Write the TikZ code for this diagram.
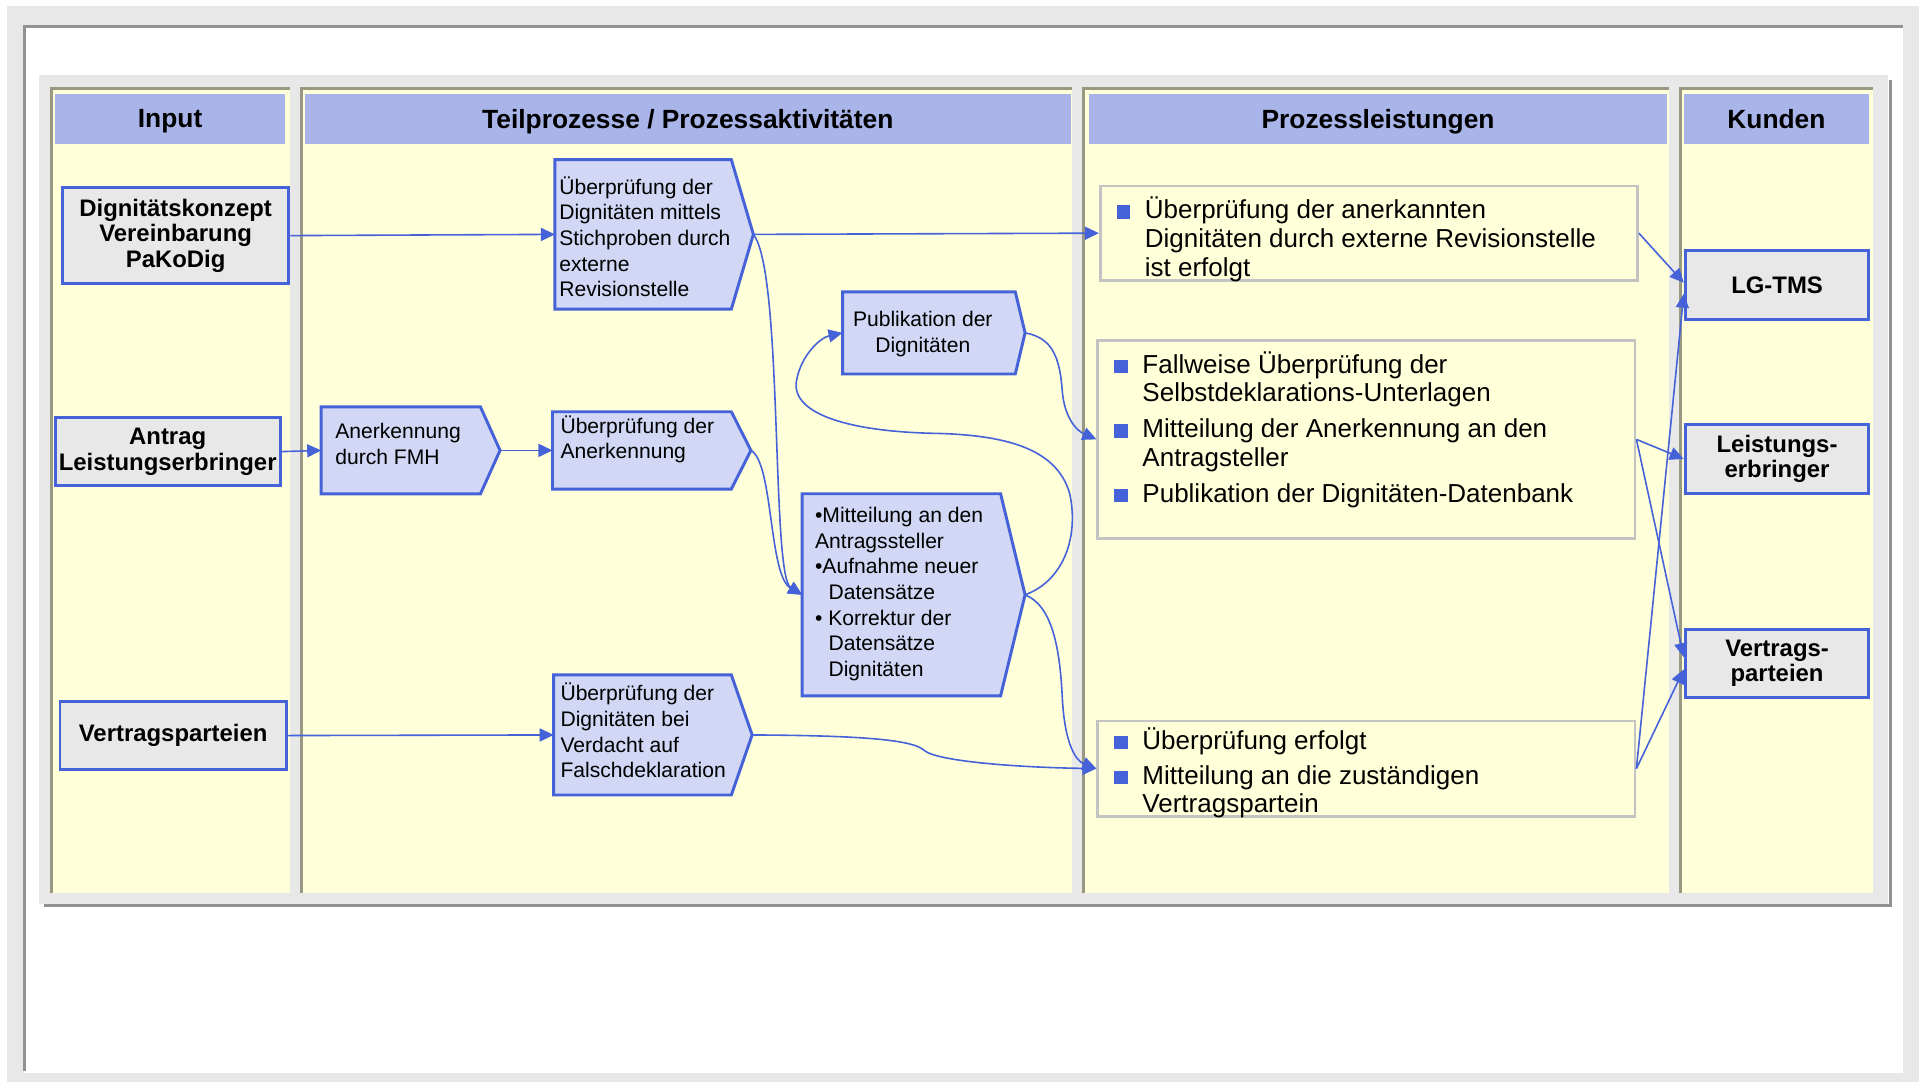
\documentclass[tikz,border=0pt]{standalone}
\usepackage{fontspec}
\setmainfont{Liberation Sans}
\usetikzlibrary{positioning,arrows.meta}

\newlength\pu
\setlength\pu{0.12239mm}
\definecolor{lineblue}{HTML}{4562D9}
\definecolor{headblue}{HTML}{A9B5E9}
\definecolor{nodeblue}{HTML}{D1D7F4}
\definecolor{colyellow}{HTML}{FFFFD9}
\definecolor{panelgray}{HTML}{E8E8E8}
\definecolor{framegray}{HTML}{929292}
\definecolor{colline}{HTML}{999983}
\definecolor{boxgray}{HTML}{C3C3C3}
\newcommand\bulsq{\makebox[23\pu][l]{\textcolor{lineblue}{\rule{11\pu}{11\pu}}}}
\newcommand\bulind{\hspace*{23\pu}}

\tikzset{
  inbox/.style={draw=lineblue, line width=2.4\pu, fill=panelgray, minimum width=185\pu,
    minimum height=56\pu, align=center, inner sep=0pt,
    font=\fontsize{6.8}{7.3}\selectfont\bfseries},
  kbox/.style={inbox, minimum width=150\pu},
  head/.style={fill=headblue, inner sep=0pt, text depth=0pt, minimum height=41\pu,
    font=\fontsize{7.5}{9}\selectfont\bfseries},
  sig/.style={inner sep=0pt},
  sigline/.style={draw=lineblue, fill=nodeblue, line width=2.4\pu},
  sigtext/.style={font=\fontsize{6}{7.3}\selectfont, align=left, inner sep=0pt, anchor=west},
  outbox/.style={draw=boxgray, line width=2.2\pu, minimum width=439\pu, inner sep=0pt},
  outtext/.style={font=\fontsize{7.4}{8.15}\selectfont, align=left, inner sep=0pt, anchor=west},
  flow/.style={draw=lineblue, line width=1.3\pu, -{Triangle[length=1.4mm,width=1.3mm]}},
}

\begin{document}
\begin{tikzpicture}[x=0.12239mm, y=-0.12239mm]
\useasboundingbox (0,0) rectangle (1568,884.06);
% frame and panel
\fill[panelgray] (6,5) rectangle (1568,884.06);
\fill[white] (20,22) rectangle (1555,877);
\draw[framegray, line width=2.5\pu] (20,875) -- (20,22) -- (1555,22);
\fill[panelgray] (32,61) rectangle (1543,739);
\draw[framegray, line width=2.5\pu] (36,740) -- (1545,740) -- (1545,65);
\foreach \l/\r in {42/237, 246/876, 885/1364, 1373/1530}{% one column each
  \fill[colyellow] (\l,72) rectangle (\r,730);
  \draw[colline, line width=2.5\pu] (\l,730) -- (\l,72) -- (\r,72);
}
\node[head, minimum width=188\pu] (hinput) at (139,97) {Input};
\node[head, minimum width=626\pu] (hteil) at (562,97) {Teilprozesse / Prozessaktivitäten};
\node[head, minimum width=472\pu] (hleist) at (1126,97.5) {Prozessleistungen};
\node[head, minimum width=151\pu] (hkunden) at (1451.5,97.5) {Kunden};

% input
\node[inbox, minimum height=79\pu] (konzept) at (143.5,192.5) {Dignitätskonzept\\Vereinbarung\\PaKoDig};
\node[inbox, minimum width=184\pu] (antrag) at (137,369) {Antrag\\Leistungserbringer};
\node[inbox] (vertrag) at (141.5,601) {Vertragsparteien};

% process steps
\node[sig, minimum width=145\pu, minimum height=70\pu] (fmh) at (335.5,368) {};
\node[sig, minimum width=161\pu, minimum height=121\pu] (stich) at (534.5,191.5) {};
\node[sig, minimum width=161\pu, minimum height=62\pu] (anerk) at (532.5,368) {};
\node[sig, minimum width=148\pu, minimum height=66\pu] (publik) at (763,272) {};
\node[sig, minimum width=181\pu, minimum height=164\pu] (mitteil) at (746.5,486) {};
\node[sig, minimum width=161\pu, minimum height=97\pu] (verdacht) at (533.5,600.5) {};
\foreach \n/\d in {fmh/16, stich/18, anerk/16, publik/8, mitteil/20, verdacht/17}{
  \draw[sigline] (\n.north west) -- ([xshift=-\d\pu]\n.north east) -- (\n.east)
    -- ([xshift=-\d\pu]\n.south east) -- (\n.south west) -- cycle;
}
\node[sigtext] (fmh-t) at ([xshift=11\pu, yshift=5.5\pu]fmh.west) {Anerkennung\\durch FMH};
\node[sigtext] (stich-t) at ([xshift=3\pu, yshift=-2\pu]stich.west) {Überprüfung der\\Dignitäten mittels\\Stichproben durch\\externe\\Revisionstelle};
\node[sigtext] (anerk-t) at ([xshift=6\pu, yshift=9\pu]anerk.west) {Überprüfung der\\Anerkennung};
\node[sigtext, anchor=center, align=center] (publik-t) at ([xshift=-9\pu, yshift=-1\pu]publik.center) {Publikation der\\Dignitäten};
\node[sigtext] (mitteil-t) at ([xshift=10\pu, yshift=0.5\pu]mitteil.west) {•Mitteilung an den\\Antragssteller\\•Aufnahme neuer\\\hspace*{11\pu}Datensätze\\• Korrektur der\\\hspace*{11\pu}Datensätze\\\hspace*{11\pu}Dignitäten};
\node[sigtext] (verdacht-t) at ([xshift=5\pu, yshift=3.5\pu]verdacht.west) {Überprüfung der\\Dignitäten bei\\Verdacht auf\\Falschdeklaration};

% results
\node[outbox, minimum height=77\pu] (leist1) at (1118.5,190.5) {};
\node[outbox, minimum height=162\pu] (leist2) at (1116.5,359) {};
\node[outbox, minimum height=78\pu] (leist3) at (1116.5,628) {};
\node[outtext] (leist1-t) at ([xshift=14\pu, yshift=-5\pu]leist1.west) {\bulsq Überprüfung der anerkannten\\\bulind Dignitäten durch externe Revisionstelle\\\bulind ist erfolgt};
\node[outtext] (leist2-t) at ([xshift=14\pu, yshift=8\pu]leist2.west) {\bulsq Fallweise Überprüfung der\\\bulind Selbstdeklarations-Unterlagen\\[6\pu]\bulsq Mitteilung der Anerkennung an den\\\bulind Antragsteller\\[6\pu]\bulsq Publikation der Dignitäten-Datenbank};
\node[outtext] (leist3-t) at ([xshift=14\pu, yshift=-3.5\pu]leist3.west) {\bulsq Überprüfung erfolgt\\[5\pu]\bulsq Mitteilung an die zuständigen\\\bulind Vertragspartein};

% customers
\node[kbox] (lgtms) at (1452,233) {LG-TMS};
\node[kbox] (kleist) at (1452,375) {Leistungs-\\erbringer};
\node[kbox] (kvertrag) at (1452,542) {Vertrags-\\parteien};

% connectors
\draw[flow] (konzept.east) -- (stich.west);
\draw[flow] (antrag.east) -- (fmh.west);
\draw[flow] (fmh.east) -- (anerk.west);
\draw[flow] (vertrag.east) -- (verdacht.west);
\draw[flow] (stich.east) -- (leist1.west);
\draw[flow] (stich.east) .. controls (640,222) and (630,470) .. (mitteil.west);
\draw[flow] (anerk.east) .. controls (632,378) and (628,470) .. (mitteil.west);
\draw[flow] (mitteil.east) .. controls (868,475) and (882,440) .. (874,403)
  .. controls (864,370) and (830,355) .. (760,354) .. controls (690,352) and (645,337) .. (651,310)
  .. controls (655,290) and (670,276) .. (publik.west);
\draw[flow] (mitteil.east) .. controls (860,495) and (866,530) .. (868,570)
  .. controls (870,610) and (880,622) .. (leist3.west);
\draw[flow] (publik.east) .. controls (860,276) and (866,292) .. (868,320)
  .. controls (870,342) and (880,352) .. (leist2.west);
\draw[flow] (verdacht.east) .. controls (700,601) and (745,604) .. (755,613)
  .. controls (765,622) and (830,627) .. (leist3.west);
\draw[flow] (leist1.east) -- ([yshift=2\pu]lgtms.west);
\draw[flow] (leist2.east) -- (kleist.west);
\draw[flow] (leist2.east) -- ([yshift=5\pu]kvertrag.west);
\draw[flow] (leist3.east) -- ([yshift=-7\pu]lgtms.west);
\draw[flow] (leist3.east) -- ([yshift=-5\pu]kvertrag.west);
\end{tikzpicture}
\end{document}
